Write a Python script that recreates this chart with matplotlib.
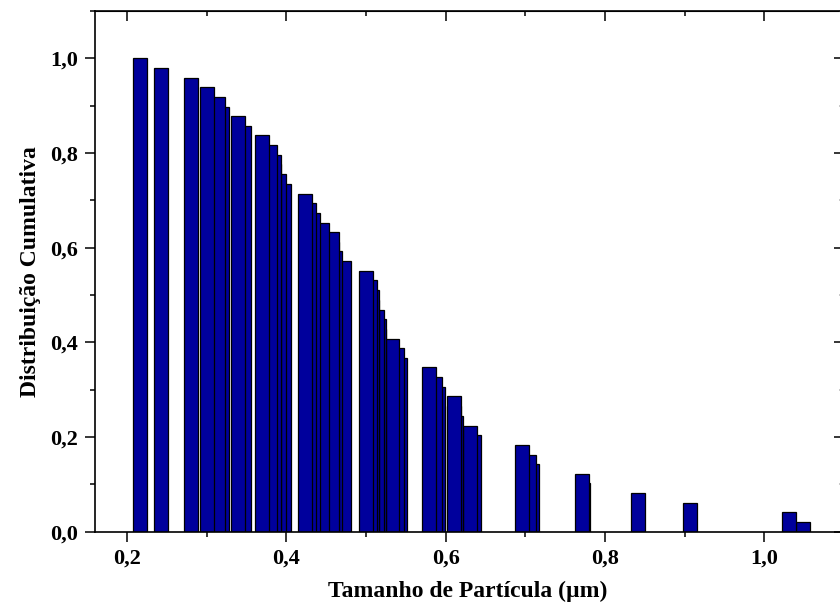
import matplotlib
matplotlib.use('Agg')
import matplotlib.pyplot as plt
from matplotlib.ticker import MultipleLocator, FuncFormatter

#-------------------------------------------- Data --------------------------------------------#

sizes = [0.216, 0.243, 0.281, 0.301, 0.314, 0.320, 0.340, 0.347, 0.369, 0.379,
         0.385, 0.385, 0.391, 0.397, 0.423, 0.428, 0.433, 0.445, 0.457, 0.457,
         0.461, 0.473, 0.500, 0.505, 0.508, 0.508, 0.514, 0.516, 0.516, 0.533,
         0.539, 0.543, 0.579, 0.587, 0.591, 0.610, 0.610, 0.613, 0.631, 0.636,
         0.696, 0.704, 0.708, 0.771, 0.772, 0.841, 0.906, 1.031, 1.048]
cumulative = [1.000, 0.980, 0.959, 0.939, 0.918, 0.898, 0.878, 0.857, 0.837, 0.816,
              0.796, 0.776, 0.755, 0.735, 0.714, 0.694, 0.673, 0.653, 0.633, 0.612,
              0.592, 0.571, 0.551, 0.531, 0.510, 0.490, 0.469, 0.449, 0.429, 0.408,
              0.388, 0.367, 0.347, 0.327, 0.306, 0.286, 0.265, 0.245, 0.224, 0.204,
              0.184, 0.163, 0.143, 0.122, 0.102, 0.082, 0.061, 0.041, 0.020]

#-------------------------------------------- Plot --------------------------------------------#

plt.rcParams['font.family'] = ['Liberation Serif', 'DejaVu Serif']
plt.rcParams['font.weight'] = 'bold'

fig = plt.figure(figsize=(8.4, 6.07), dpi=100)
ax = fig.add_axes([0.113, 0.124, 0.892, 0.858])

# shortest bars first so the taller ones sit on top
ax.bar(sizes[::-1], cumulative[::-1], width=0.0176, color='#00009c',
       edgecolor='black', linewidth=0.9)

ax.set_xlim(0.16, 1.1)
ax.set_ylim(0, 1.1)

comma = FuncFormatter(lambda v, p: ('%.1f' % v).replace('.', ','))
ax.xaxis.set_major_locator(MultipleLocator(0.2))
ax.xaxis.set_minor_locator(MultipleLocator(0.1))
ax.yaxis.set_major_locator(MultipleLocator(0.2))
ax.yaxis.set_minor_locator(MultipleLocator(0.1))
ax.xaxis.set_major_formatter(comma)
ax.yaxis.set_major_formatter(comma)

ax.tick_params(which='major', direction='out', length=7, width=1.1, labelsize=16, pad=5)
ax.tick_params(which='minor', direction='out', length=3.6, width=1.1)
for s in ax.spines.values():
    s.set_linewidth(1.2)

# mirrored ticks, pointing inward
top = ax.secondary_xaxis('top')
top.xaxis.set_major_locator(MultipleLocator(0.2))
top.xaxis.set_minor_locator(MultipleLocator(0.1))
top.tick_params(which='major', direction='in', length=7, width=1.1, labeltop=False)
top.tick_params(which='minor', direction='in', length=3.6, width=1.1)
right = ax.secondary_yaxis('right')
right.yaxis.set_major_locator(MultipleLocator(0.2))
right.yaxis.set_minor_locator(MultipleLocator(0.1))
right.tick_params(which='major', direction='in', length=7, width=1.1, labelright=False)
right.tick_params(which='minor', direction='in', length=3.6, width=1.1, color='#bbbbbb')

ax.set_xlabel('Tamanho de Partícula (µm)', fontsize=17, fontweight='bold')
ax.set_ylabel('Distribuição Cumulativa', fontsize=17, fontweight='bold')
ax.xaxis.set_label_coords(0.5 * (840 - 95) / 749.4, -0.094)
ax.yaxis.set_label_coords(-0.072, 0.5)

fig.savefig('out.png', dpi=100)
